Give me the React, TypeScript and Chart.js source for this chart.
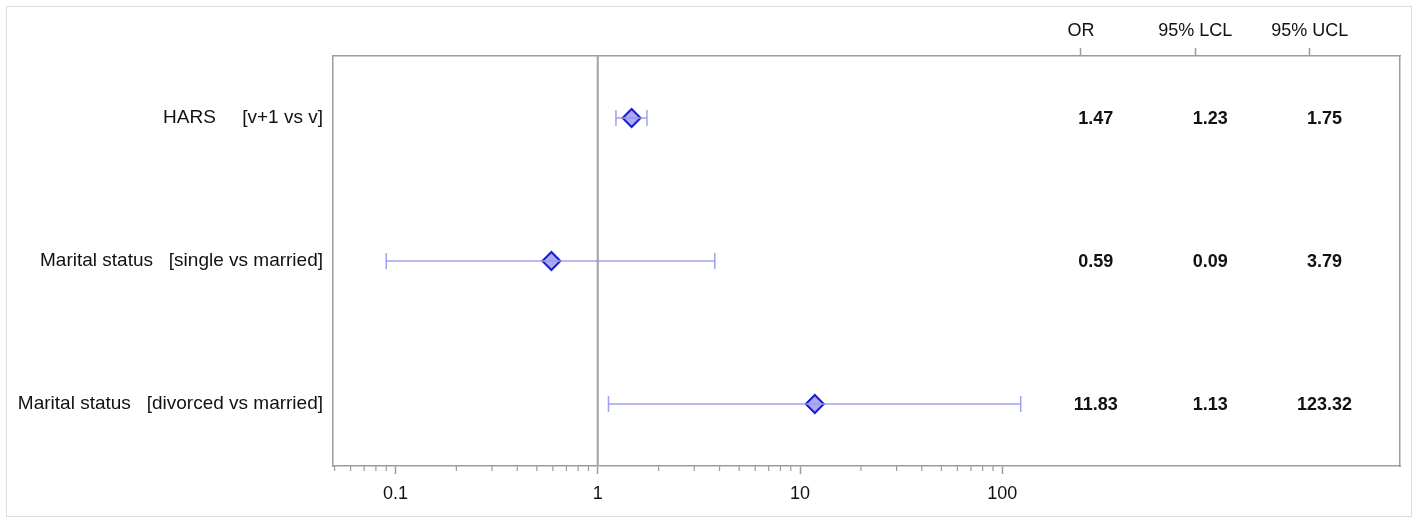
import React, { useEffect, useRef } from "react";
import { Chart, registerables } from "chart.js";
Chart.register(...registerables);

const categories = [
  "HARS     [v+1 vs v]",
  "Marital status   [single vs married]",
  "Marital status   [divorced vs married]",
];
const oddsRatios = [1.47, 0.59, 11.83];
const lowerCL = [1.23, 0.09, 1.13];
const upperCL = [1.75, 3.79, 123.32];
const columnHeaders = ["OR", "95% LCL", "95% UCL"];
const majorTicks = [0.1, 1, 10, 100];
const minorTicks = [
  0.05, 0.06, 0.07, 0.08, 0.09,
  0.2, 0.3, 0.4, 0.5, 0.6, 0.7, 0.8, 0.9,
  2, 3, 4, 5, 6, 7, 8, 9,
  20, 30, 40, 50, 60, 70, 80, 90,
];
const referenceValue = 1;

const FONT = "'Liberation Sans', Arial, Helvetica, sans-serif";
const AXIS_GRAY = "#9c9c9c";
const CI_COLOR = "rgba(150,150,238,0.9)";

const forestPlugin = {
  id: "forestExtras",
  beforeDatasetsDraw(chart: any) {
    const { ctx, chartArea, scales } = chart;
    const xs = scales.x;
    const px = xs.getPixelForValue(referenceValue);
    ctx.save();
    ctx.strokeStyle = "#a2a2a2";
    ctx.lineWidth = 2;
    ctx.beginPath();
    ctx.moveTo(px, chartArea.top);
    ctx.lineTo(px, chartArea.bottom);
    ctx.stroke();
    ctx.restore();
  },
  afterDraw(chart: any) {
    const { ctx, chartArea, scales } = chart;
    const xs = scales.x;
    const ys = scales.y;
    const cs = scales.x2;
    ctx.save();
    // minor ticks of the log axis
    ctx.strokeStyle = AXIS_GRAY;
    ctx.lineWidth = 1.2;
    minorTicks.forEach((v) => {
      const p = xs.getPixelForValue(v);
      ctx.beginPath();
      ctx.moveTo(p, chartArea.bottom);
      ctx.lineTo(p, chartArea.bottom + 5);
      ctx.stroke();
    });
    // table values
    ctx.fillStyle = "#111";
    ctx.font = `bold 18px ${FONT}`;
    ctx.textAlign = "center";
    ctx.textBaseline = "middle";
    const cols = [oddsRatios, lowerCL, upperCL];
    cols.forEach((arr, ci) => {
      const cx = cs.getPixelForValue(ci + 1.13);
      arr.forEach((val, ri) => {
        const cy = ys.getPixelForValue(ri + 1);
        ctx.fillText(val.toFixed(2), cx, cy + 1);
      });
    });
    ctx.restore();
  },
};

export default function App() {
  const ref = useRef<HTMLCanvasElement | null>(null);
  useEffect(() => {
    if (!ref.current) return;
    const ciDatasets = categories.map((_, i) => ({
      type: "line" as const,
      data: [
        { x: lowerCL[i], y: i + 1 },
        { x: upperCL[i], y: i + 1 },
      ],
      borderColor: CI_COLOR,
      borderWidth: 1.5,
      pointRadius: 0,
      xAxisID: "x",
      yAxisID: "y",
    }));
    const capData: { x: number; y: number }[] = [];
    categories.forEach((_, i) => {
      capData.push({ x: lowerCL[i], y: i + 1 });
      capData.push({ x: upperCL[i], y: i + 1 });
    });
    const chart = new Chart(ref.current, {
      type: "scatter",
      data: {
        datasets: [
          ...ciDatasets,
          {
            type: "scatter",
            data: capData,
            pointStyle: "line",
            rotation: 90,
            pointRadius: 8,
            borderColor: CI_COLOR,
            backgroundColor: CI_COLOR,
            borderWidth: 1.5,
            xAxisID: "x",
            yAxisID: "y",
          },
          {
            type: "scatter",
            data: oddsRatios.map((v, i) => ({ x: v, y: i + 1 })),
            pointStyle: "rectRot",
            pointRadius: 9,
            borderWidth: 2,
            borderColor: "#1c1cd0",
            backgroundColor: "rgba(120,120,236,0.62)",
            xAxisID: "x",
            yAxisID: "y",
          },
        ] as any,
      },
      options: {
        animation: false,
        responsive: false,
        layout: { padding: 0 },
        plugins: {
          legend: { display: false },
          tooltip: { enabled: false },
        },
        scales: {
          x: {
            type: "logarithmic",
            position: "bottom",
            min: 0.0491,
            max: 9250,
            bounds: "data",
            afterBuildTicks: (s: any) => {
              s.ticks = majorTicks.map((v) => ({ value: v, major: true }));
            },
            afterFit: (s: any) => {
              s.height = 57;
            },
            ticks: {
              autoSkip: false,
              maxRotation: 0,
              padding: 9,
              color: "#111",
              font: { family: FONT, size: 18 },
              callback: (v: any) => String(v),
            },
            grid: {
              display: true,
              drawOnChartArea: false,
              drawTicks: true,
              tickLength: 8,
              tickColor: AXIS_GRAY,
              tickWidth: 1.5,
            },
            border: { display: true, color: AXIS_GRAY, width: 1.5 },
          },
          x2: {
            type: "linear",
            position: "top",
            min: -5.541,
            max: 3.79,
            bounds: "data",
            afterBuildTicks: (s: any) => {
              s.ticks = columnHeaders.map((_, i) => ({ value: i + 1 }));
            },
            afterFit: (s: any) => {
              s.height = 56;
            },
            ticks: {
              autoSkip: false,
              maxRotation: 0,
              padding: 6,
              color: "#111",
              font: { family: FONT, size: 18 },
              callback: (v: any) => columnHeaders[Math.round(v) - 1] ?? "",
            },
            grid: {
              display: true,
              drawOnChartArea: false,
              drawTicks: true,
              tickLength: 8,
              tickColor: AXIS_GRAY,
              tickWidth: 1.5,
            },
            border: { display: true, color: AXIS_GRAY, width: 1.5 },
          },
          y: {
            type: "linear",
            position: "left",
            reverse: true,
            min: 0.5664,
            max: 3.4336,
            bounds: "data",
            afterBuildTicks: (s: any) => {
              s.ticks = categories.map((_, i) => ({ value: i + 1 }));
            },
            afterFit: (s: any) => {
              s.width = 333;
            },
            ticks: {
              autoSkip: false,
              padding: 10,
              color: "#111",
              font: { family: FONT, size: 19 },
              callback: (v: any) => categories[Math.round(v) - 1] ?? "",
            },
            grid: { display: false, drawTicks: false },
            border: { display: true, color: AXIS_GRAY, width: 1.5 },
          },
          y2: {
            type: "linear",
            position: "right",
            min: 0,
            max: 1,
            afterFit: (s: any) => {
              s.width = 18;
            },
            ticks: { display: false },
            grid: { display: false, drawTicks: false },
            border: { display: true, color: AXIS_GRAY, width: 1.5 },
          },
        },
      } as any,
      plugins: [forestPlugin],
    });
    return () => chart.destroy();
  }, []);

  return (
    <div style={{ position: "fixed", left: 0, top: 0, width: 1418, height: 523, background: "#fff" }}>
      <div
        style={{
          position: "absolute",
          left: 6,
          top: 6,
          width: 1406,
          height: 511,
          boxSizing: "border-box",
          border: "1px solid #dedede",
        }}
      />
      <canvas ref={ref} width={1418} height={523} style={{ position: "absolute", left: 0, top: 0 }} />
    </div>
  );
}
